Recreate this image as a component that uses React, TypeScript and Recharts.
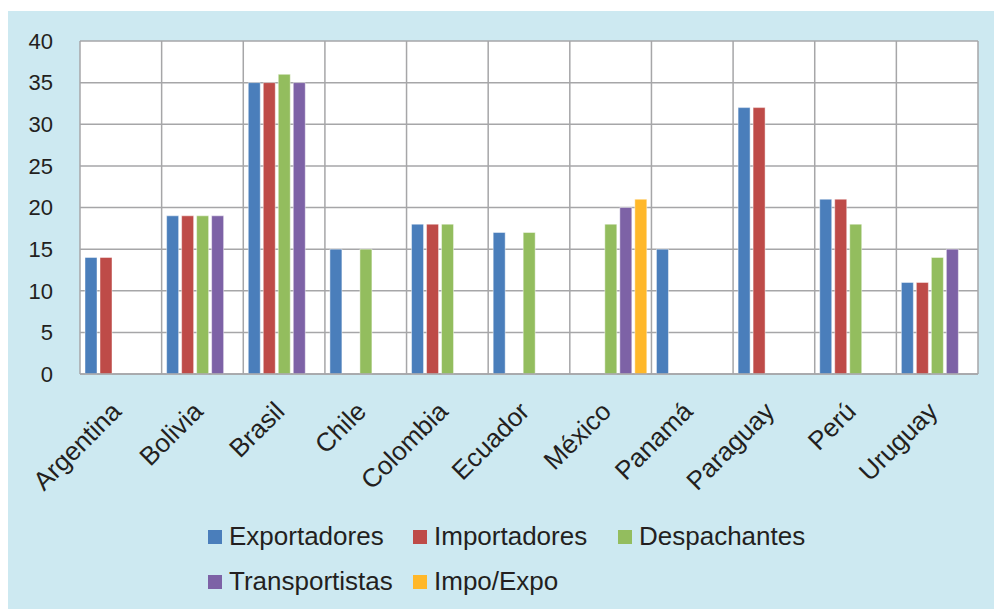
import React from 'react'
import { BarChart, Bar, XAxis, YAxis, CartesianGrid, Legend } from 'recharts'

const countries = [
  'Argentina',
  'Bolivia',
  'Brasil',
  'Chile',
  'Colombia',
  'Ecuador',
  'México',
  'Panamá',
  'Paraguay',
  'Perú',
  'Uruguay',
]

const exportadores = [14, 19, 35, 15, 18, 17, null, 15, 32, 21, 11]
const importadores = [14, 19, 35, null, 18, null, null, null, 32, 21, 11]
const despachantes = [null, 19, 36, 15, 18, 17, 18, null, null, 18, 14]
const transportistas = [null, 19, 35, null, null, null, 20, null, null, null, 15]
const impoExpo = [null, null, null, null, null, null, 21, null, null, null, null]

const yTicks = [0, 5, 10, 15, 20, 25, 30, 35, 40]

const series = [
  { key: 'exportadores', label: 'Exportadores', color: '#4a7ebb' },
  { key: 'importadores', label: 'Importadores', color: '#be4b48' },
  { key: 'despachantes', label: 'Despachantes', color: '#93bd5e' },
  { key: 'transportistas', label: 'Transportistas', color: '#7d62a6' },
  { key: 'impoExpo', label: 'Impo/Expo', color: '#ffb82a' },
]

const data = countries.map((name, i) => ({
  name,
  exportadores: exportadores[i],
  importadores: importadores[i],
  despachantes: despachantes[i],
  transportistas: transportistas[i],
  impoExpo: impoExpo[i],
}))

const FONT = '"Liberation Sans", Arial, sans-serif'
const GRID = '#a6a6a8'

function CountryTick({ x, y, payload }: any) {
  const tx = x + 2
  const ty = y + 39
  return (
    <text
      x={tx}
      y={ty}
      textAnchor="end"
      fontSize={26}
      fontFamily={FONT}
      fill="#231f20"
      transform={`rotate(-45, ${tx}, ${ty})`}
    >
      {payload.value}
    </text>
  )
}

function LegendContent() {
  return (
    <div style={{ display: 'flex', flexWrap: 'wrap', width: 630 }}>
      {series.map((s) => (
        <div
          key={s.key}
          style={{
            width: 205,
            height: 45,
            display: 'flex',
            alignItems: 'center',
            fontFamily: FONT,
            fontSize: 26,
            color: '#231f20',
            lineHeight: '45px',
          }}
        >
          <span
            style={{
              display: 'inline-block',
              width: 14,
              height: 14,
              background: s.color,
              marginRight: 7,
            }}
          />
          <span>{s.label}</span>
        </div>
      ))}
    </div>
  )
}

export default function App() {
  return (
    <div
      style={{
        position: 'absolute',
        left: 8,
        top: 11,
        width: 986,
        height: 598,
        background: '#cde9f1',
      }}
    >
      <BarChart
        width={986}
        height={598}
        data={data}
        margin={{ top: 30, right: 16, left: 0, bottom: 0 }}
        barSize={12}
        barGap={3}
      >
        <CartesianGrid
          stroke={GRID}
          strokeWidth={1.5}
          fill="#ffffff"
          fillOpacity={1}
          verticalCoordinatesGenerator={({ offset }: any) =>
            countries
              .concat([''])
              .map((_, i) => offset.left + (i * offset.width) / countries.length)
          }
        />
        <XAxis
          dataKey="name"
          interval={0}
          height={235}
          tickSize={0}
          tickMargin={0}
          axisLine={{ stroke: GRID, strokeWidth: 1.5 }}
          tickLine={false}
          tick={<CountryTick />}
        />
        <YAxis
          width={72}
          domain={[0, 40]}
          ticks={yTicks}
          interval={0}
          axisLine={false}
          tickLine={false}
          tickSize={0}
          tickMargin={27}
          tick={{ fontSize: 22, fontFamily: FONT, fill: '#231f20' }}
        />
        <Legend
          layout="horizontal"
          verticalAlign="middle"
          align="center"
          content={<LegendContent />}
          wrapperStyle={{ top: 503, left: 200, width: 630, height: 90 }}
        />
        {series.map((s) => (
          <Bar
            key={s.key}
            dataKey={s.key}
            name={s.label}
            fill={s.color}
            stroke="rgba(255,255,255,0.45)"
            strokeWidth={1}
            isAnimationActive={false}
          />
        ))}
      </BarChart>
    </div>
  )
}
